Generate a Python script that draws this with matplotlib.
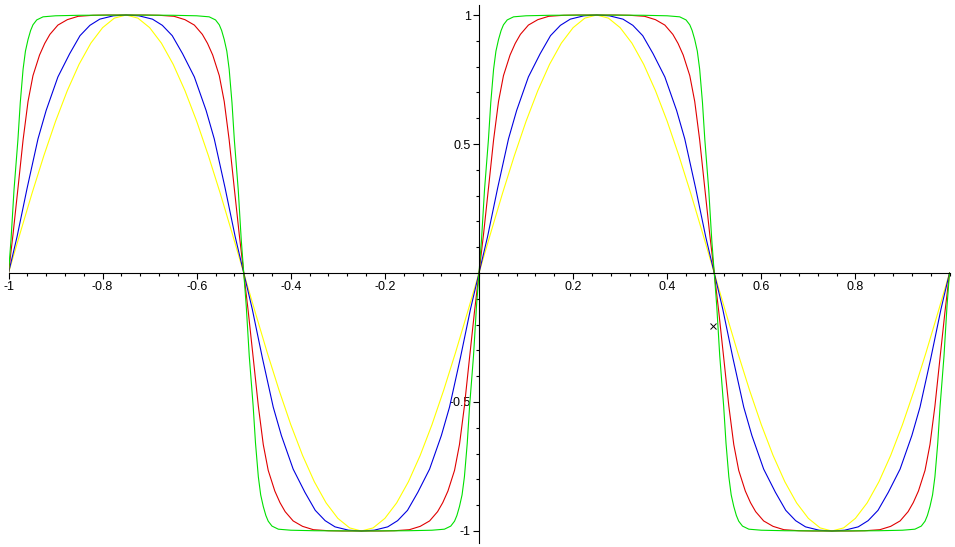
import numpy as np
import matplotlib.pyplot as plt
from matplotlib.ticker import MultipleLocator, FixedLocator

plt.rcParams["axes.unicode_minus"] = False
plt.rcParams["font.family"] = ["Liberation Sans", "DejaVu Sans"]

# values for one quarter period, x from 0 to 0.25
x_yellow = [0, 0.025, 0.05, 0.075, 0.1, 0.125, 0.15, 0.175, 0.2, 0.225, 0.25]
y_yellow = [0, 0.156, 0.309, 0.454, 0.588, 0.707, 0.809, 0.891, 0.951, 0.988, 1.0]

x_blue = [0, 0.0181, 0.0397, 0.0627, 0.08, 0.105, 0.13, 0.152, 0.173, 0.194, 0.223, 0.25]
y_blue = [0, 0.14, 0.33, 0.52, 0.63, 0.76, 0.85, 0.92, 0.96, 0.984, 0.997, 1.0]

x_red = [0, 0.0096, 0.0202, 0.031, 0.0415, 0.052, 0.066, 0.077, 0.088, 0.105, 0.125, 0.148, 0.18, 0.21, 0.25]
y_red = [0, 0.15, 0.33, 0.516, 0.665, 0.765, 0.845, 0.89, 0.925, 0.961, 0.982, 0.995, 0.999, 1.0, 1.0]

x_green = [0, 0.0053, 0.0117, 0.020, 0.025, 0.031, 0.036, 0.0415, 0.047, 0.052, 0.06, 0.0735, 0.1, 0.15, 0.25]
y_green = [0, 0.128, 0.322, 0.516, 0.66, 0.79, 0.86, 0.905, 0.94, 0.962, 0.981, 0.993, 0.997, 0.999, 1.0]

# the little cross near x = 0.5
cross_x = [0.4964]
cross_y = [-0.204]

x_ticks = [-1, -0.8, -0.6, -0.4, -0.2, 0.2, 0.4, 0.6, 0.8]
x_tick_labels = ["-1", "-0.8", "-0.6", "-0.4", "-0.2", "0.2", "0.4", "0.6", "0.8"]
y_ticks = [-1, -0.5, 0.5, 1]
y_tick_labels = ["-1", "-0.5", "0.5", "1"]


def full_wave(xq, yq):
    # the curves repeat: mirror the quarter, then flip sign every half period
    xq = np.array(xq)
    yq = np.array(yq)
    xh = np.concatenate([xq, 0.5 - xq[::-1][1:]])
    yh = np.concatenate([yq, yq[::-1][1:]])
    xs = []
    ys = []
    for k in range(-2, 2):
        xs.append(xh + 0.5 * k)
        ys.append(yh * (-1) ** k)
    return np.concatenate(xs), np.concatenate(ys)


fig = plt.figure(figsize=(9.55, 5.47), dpi=100)
ax = fig.add_axes([8.5 / 955, 4.4 / 547, 941 / 955, 537.9 / 547])

for xq, yq, col in [(x_yellow, y_yellow, "#ffff00"),
                    (x_blue, y_blue, "#0000e0"),
                    (x_red, y_red, "#e00000"),
                    (x_green, y_green, "#00e000")]:
    xs, ys = full_wave(xq, yq)
    ax.plot(xs, ys, color=col, lw=0.8)

ax.plot(cross_x, cross_y, marker="x", color="black", ms=5, mew=0.7, ls="none")

ax.set_xlim(-1, 1)
ax.set_ylim(-1.045, 1.04)

# maple style axes through the origin
ax.spines["left"].set_position(("data", 0))
ax.spines["bottom"].set_position(("data", 0))
ax.spines["right"].set_visible(False)
ax.spines["top"].set_visible(False)
ax.spines["left"].set_linewidth(0.8)
ax.spines["bottom"].set_linewidth(0.8)

ax.xaxis.set_major_locator(FixedLocator(x_ticks))
ax.set_xticklabels(x_tick_labels)
ax.xaxis.set_minor_locator(MultipleLocator(0.04))
ax.yaxis.set_major_locator(FixedLocator(y_ticks))
ax.set_yticklabels(y_tick_labels)
ax.yaxis.set_minor_locator(MultipleLocator(0.1))

ax.tick_params(which="major", length=4, width=0.8, labelsize=9, pad=2)
ax.tick_params(which="minor", length=2, width=0.8)
ax.tick_params(axis="x", direction="out")
ax.tick_params(axis="y", direction="out")
ax.patch.set_alpha(0)

fig.savefig("out.png", dpi=100)
